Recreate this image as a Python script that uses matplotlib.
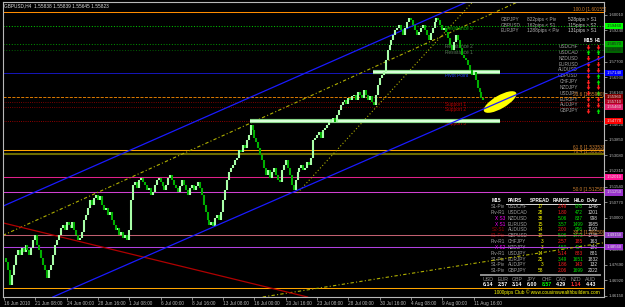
import matplotlib
matplotlib.use("Agg")
import matplotlib.pyplot as plt
import matplotlib.transforms as mtransforms
from matplotlib.patches import Ellipse

plt.rcParams['font.family'] = ['Liberation Sans Narrow', 'Liberation Sans', 'DejaVu Sans']

# GBPUSD H4 closes, 16 Jun 2010 - 11 Aug 2010
closes = [
    1.4802, 1.4782, 1.4743, 1.4669, 1.4718,
    1.4768, 1.4817, 1.4842, 1.4817, 1.4851, 1.4832, 1.4866, 1.4842, 1.4817,
    1.4851, 1.4891, 1.4915, 1.4866,
    1.4842, 1.4802, 1.4768, 1.4743, 1.4704, 1.4743,
    1.4768, 1.4817, 1.4866, 1.4891,
    1.4915, 1.4950, 1.4965, 1.4940, 1.4980,
    1.4965, 1.4950, 1.4980, 1.4940, 1.4915, 1.4891, 1.4901,
    1.4930, 1.4989, 1.5014,
    1.5049, 1.5088, 1.5063, 1.5098, 1.5113, 1.5088, 1.5108,
    1.5063, 1.5039, 1.5049, 1.5014, 1.5029, 1.4989, 1.4965, 1.4940,
    1.4950, 1.4915, 1.4930, 1.4901, 1.4915, 1.4891, 1.4940,
    1.5088, 1.5162, 1.5177, 1.5147, 1.5187,
    1.5197, 1.5177, 1.5162, 1.5137, 1.5147, 1.5113, 1.5127, 1.5162, 1.5187, 1.5197,
    1.5177, 1.5157, 1.5137, 1.5162, 1.5197, 1.5211, 1.5187, 1.5162, 1.5147, 1.5127,
    1.5157, 1.5187, 1.5162, 1.5137, 1.5113, 1.5147, 1.5162, 1.5137, 1.5157, 1.5177,
    1.5147,
    1.5113, 1.5063, 1.5029, 1.4989, 1.4965, 1.4980, 1.4960,
    1.4999, 1.5014, 1.4989, 1.5029,
    1.5088, 1.5137, 1.5187, 1.5226, 1.5246, 1.5261, 1.5285, 1.5295, 1.5335, 1.5325,
    1.5359, 1.5344, 1.5384, 1.5408,
    1.5458, 1.5433, 1.5394, 1.5374, 1.5344,
    1.5310, 1.5285, 1.5246, 1.5211, 1.5236, 1.5197, 1.5226, 1.5246, 1.5211, 1.5187,
    1.5177, 1.5236,
    1.5261, 1.5285, 1.5246, 1.5211, 1.5162, 1.5137, 1.5187,
    1.5226, 1.5246, 1.5261, 1.5236, 1.5246, 1.5275, 1.5261, 1.5295,
    1.5384, 1.5394, 1.5408, 1.5423, 1.5394, 1.5433,
    1.5443, 1.5458, 1.5473, 1.5482, 1.5492, 1.5473, 1.5507, 1.5532,
    1.5556, 1.5571, 1.5581, 1.5561, 1.5591, 1.5581, 1.5601, 1.5606, 1.5581,
    1.5620, 1.5606, 1.5591, 1.5630, 1.5606, 1.5581, 1.5601, 1.5571, 1.5556,
    1.5606, 1.5655, 1.5690, 1.5704, 1.5719, 1.5778, 1.5828, 1.5852,
    1.5877, 1.5901, 1.5926, 1.5936, 1.5951, 1.5926, 1.5901, 1.5936, 1.5966, 1.5985,
    1.5975, 1.5951,
    1.5926, 1.5901, 1.5916, 1.5936, 1.5951, 1.5926, 1.5901, 1.5877, 1.5911, 1.5936,
    1.5966, 1.5985, 1.5975, 1.5951, 1.5926, 1.5936,
    1.5916, 1.5887, 1.5852, 1.5828, 1.5867, 1.5901, 1.5877, 1.5837, 1.5803, 1.5788,
    1.5778,
    1.5754, 1.5729, 1.5704, 1.5719, 1.5680, 1.5640, 1.5620, 1.5591, 1.5581,
]

date_labels = ['16 Jun 2010', '21 Jun 08:00', '24 Jun 00:00', '28 Jun 16:00', '1 Jul 08:00',
               '6 Jul 00:00', '8 Jul 16:00', '13 Jul 08:00', '16 Jul 00:00', '20 Jul 16:00',
               '23 Jul 08:00', '28 Jul 00:00', '30 Jul 16:00', '4 Aug 08:00', '9 Aug 00:00',
               '11 Aug 16:00']

price_ticks = [1.46150, 1.46920, 1.47690, 1.48460, 1.49230, 1.50000, 1.50770, 1.51540,
               1.52310, 1.53080, 1.53850, 1.54620, 1.55390, 1.56160, 1.56930, 1.57700,
               1.58470, 1.59240, 1.60010]

# horizontal levels (fibo, pivots, S/R)
levels = [1.60155, 1.5946, 1.5857, 1.5828, 1.5714, 1.5596, 1.5571, 1.5546, 1.5477,
          1.5335, 1.5315, 1.5201, 1.5125, 1.4915, 1.4856, 1.4654]
level_colors = ['#ff8c00', '#00c000', '#008a00', '#005a00', '#1a1ad8', '#ff8c00', '#a00000',
                '#a00000', '#c00000', '#ffa500', '#6b6b00', '#e0208a', '#d040d0', '#c06070',
                '#b040e0', '#ffa500']
level_styles = ['-', ':', ':', ':', '-', '--', ':', ':', ':', '-', '-', '-', '-', '-', '-', '-']
level_widths = [1, 1, 1, 1, 0.8, 0.8, 0.8, 0.8, 0.8, 1, 2, 1, 1, 1, 1, 1]

# price boxes on the right scale
box_prices = [1.5946, 1.5857, 1.5828, 1.5714, 1.5596, 1.5571, 1.5546, 1.5477,
              1.5201, 1.5125, 1.4915, 1.4856]
box_colors = ['#00ff00', '#00b000', '#006400', '#0000ff', '#800000', '#b00020', '#e0206a',
              '#ff0000', '#ff1493', '#9932cc', '#9040c0', '#9932cc']
box_text = ['#202020', '#202020', '#202020', '#e0e0e0', '#e0e0e0', '#e0e0e0', '#e0e0e0',
            '#e0e0e0', '#e0e0e0', '#e0e0e0', '#e0e0e0', '#e0e0e0']

fib_prices = [1.60155, 1.5596, 1.5335, 1.5315, 1.5125, 1.4915]
fib_texts = ['100.0 [1.60155]', '23.6 [1.55960]', '61.8 [1.53353]', '76.4 [1.53150]',
             '50.0 [1.51250]', '38.2 [1.49150]']

sr_prices = [1.5946, 1.5857, 1.5828, 1.5714, 1.5571, 1.5546, 1.5477]
sr_texts = ['Resistance 3', 'Resistance 2', 'Resistance 1', 'Pivot Point',
            'Support 1', 'Support 2', 'Support 3']
sr_colors = ['#00b000', '#5a7a5a', '#5a7a5a', '#2040ff', '#c00000', '#c00000', '#c00000']

# trend lines: two (bar, price) points each
blue_upper = [(0, 1.5060), (200, 1.5909)]
blue_lower = [(25, 1.4610), (300, 1.5768)]
yellow_mid = [(0, 1.4916), (200, 1.5791)]
yellow_low = [(133, 1.4611), (305, 1.4875)]
red_line = [(0, 1.4974), (155, 1.4610)]
yellow_ray = [(150, 1.5123), (250, 1.6175)]

# thick zone lines: (bar start, bar end, price)
zones = [(188.6, 253.4, 1.5719), (125.7, 253.4, 1.5477)]

ellipse_center = (253.5, 1.5571)

pairs = ['USDCHF', 'USDCAD', 'NZDUSD', 'EURUSD', 'AUDUSD', 'GBPUSD',
         'CHFJPY', 'NZDJPY', 'USDJPY', 'EURJPY', 'AUDJPY', 'GBPJPY']
m15_up = [0, 1, 0, 0, 0, 0, 0, 0, 0, 0, 0, 0]
h1_up = [0, 1, 0, 0, 0, 1, 1, 0, 1, 0, 0, 1]

pips_rows = [('GBPJPY', '822pips < Piv', '528pips > S1'),
             ('GBPUSD', '162pips < S1', '115pips > S2'),
             ('EURJPY', '1288pips < Piv', '131pips > S1')]

status = ['S1-Piv', 'Piv-R1', 'X S3', 'X S1', 'S2-S1', 'S1-Piv',
          'Piv-R1', 'X S2', 'Piv-R1', 'S1-Piv', 'S1-Piv', 'S1-Piv']
status_col = ['#a0a0a0', '#a0a0a0', '#ff00ff', '#ff00ff', '#a00000', '#a00000',
              '#a0a0a0', '#ff00ff', '#a0a0a0', '#a0a0a0', '#a0a0a0', '#a0a0a0']
spread = [17, 28, 38, 15, 14, 19, 3, 3, 14, 25, 3, 58]
ranges = ['2.49', '1.80', '5.06', '3.57', '2.00', '5.06', '2.57', '4.50', '5.14', '3.49', '1.86', '2.06']
range_up = [0, 0, 1, 1, 0, 1, 0, 1, 0, 1, 0, 0]
hilo = [978, 472, 837, 1499, 896, 1473, 185, 414, 883, 1651, 143, 1699]
hilo_up = [1, 1, 1, 1, 1, 1, 0, 1, 0, 1, 0, 1]
d_av = [1346, 1201, 998, 1985, 1192, 1745, 163, 180, 881, 1832, 132, 2022]

currencies = ['USD', 'EUR', 'GBP', 'JPY', 'CHF', 'CAD', 'NZD', 'AUD']
strength = ['6.14', '2.57', '3.14', '6.00', '8.57', '4.29', '1.14', '4.43']
strength_col = ['white', 'white', 'white', 'white', '#00ff00', 'white', '#ff3030', 'white']

W, H = 625, 307
GREEN, RED = '#00e000', '#ff2020'
FS = 3.4
ARROW_UP = [(-0.3, -1), (0.3, -1), (0.3, -0.1), (0.75, -0.1), (0, 1), (-0.75, -0.1), (-0.3, -0.1)]
ARROW_DN = [(x, -y) for x, y in ARROW_UP]

fig = plt.figure(figsize=(W / 100, H / 100), dpi=100, facecolor='black')
ax = fig.add_axes([3 / W, 1 - 297 / H, 601 / W, 295 / H], facecolor='black')
ax.set_xlim(-0.51, 306.6)
ax.set_ylim(1.46098, 1.60641)

# levels
for p, c, ls, lw in zip(levels, level_colors, level_styles, level_widths):
    ax.axhline(p, color=c, ls=ls, lw=lw * 0.75, zorder=2)

for (b0, b1, p) in zones:
    ax.plot([b0, b1], [p, p], color='#7fd07f', lw=3.0, solid_capstyle='butt', zorder=2.5)
    ax.plot([b0, b1], [p, p], color='#d8ffd8', lw=1.6, solid_capstyle='butt', zorder=2.6)

# trend lines
ax.axline(*blue_upper, color='#1a1aff', lw=0.9, zorder=2)
ax.axline(*yellow_mid, color='#b0b000', lw=0.8, ls=(0, (3, 2, 1, 2)), zorder=2)
ax.axline(*yellow_low, color='#b0b000', lw=0.8, ls=(0, (3, 2, 1, 2)), zorder=2)
ax.axline(*red_line, color='#b00000', lw=0.9, zorder=2)
ax.plot([yellow_ray[0][0], yellow_ray[1][0]], [yellow_ray[0][1], yellow_ray[1][1]],
        color='#b0b000', lw=0.8, ls=(0, (1, 2)), zorder=2)

# candles (open = previous close)
opens = [closes[0]] + closes[:-1]
bars = list(range(len(closes)))
lo = [min(o, c) for o, c in zip(opens, closes)]
hi = [max(o, c) for o, c in zip(opens, closes)]
cols = ['#a8ffa8' if c >= o else '#00b000' for o, c in zip(opens, closes)]
ax.vlines(bars, lo, hi, colors=cols, lw=1.5, zorder=3)

# marker ellipse
ell = Ellipse((0, 0), 0.37, 0.13, angle=30, facecolor='#ffff00', edgecolor='none', zorder=4,
              transform=fig.dpi_scale_trans + mtransforms.ScaledTranslation(*ellipse_center, ax.transData))
ax.add_patch(ell)
ax.axline(*blue_lower, color='#1a1aff', lw=0.9, zorder=5)

# axes styling
for s in ax.spines.values():
    s.set_color('#b8b8b8')
    s.set_linewidth(0.8)
ax.yaxis.tick_right()
ax.set_yticks(price_ticks)
ax.set_yticklabels([f'{p:.5f}' for p in price_ticks])
ax.set_xticks([16 * i for i in range(len(date_labels))])
ax.set_xticklabels(date_labels, ha='left')
ax.tick_params(colors='#b8b8b8', labelsize=FS, length=2, width=0.5, pad=1)
ax.tick_params(axis='y', pad=1.5, labelsize=3.1)

blend = mtransforms.blended_transform_factory(ax.transAxes, ax.transData)
for p, c, tc in zip(box_prices, box_colors, box_text):
    ax.text(1.004, p, f'{p:.5f}', transform=blend, color=tc, fontsize=3.1, va='center', ha='left',
            bbox=dict(boxstyle='square,pad=0.3', fc=c, ec='none'), clip_on=False, zorder=6)

for p, t in zip(fib_prices, fib_texts):
    ax.text(0.948, p, t, transform=blend, color='#d08030', fontsize=FS, va='bottom', ha='left', zorder=2)

for p, t, c in zip(sr_prices, sr_texts, sr_colors):
    ax.text(0.735, p, t, transform=blend, color=c, fontsize=FS, va='top', ha='left', zorder=2)


def ftext(x, y, s, color, ha='left', size=FS, weight='normal'):
    ax.text(x / W, 1 - y / H, s, transform=fig.transFigure, color=color, ha=ha, va='center',
            fontsize=size, fontweight=weight, zorder=1, clip_on=False)


def fline(x0, x1, y, color, lw):
    ax.plot([x0 / W, x1 / W], [1 - y / H, 1 - y / H], transform=fig.transFigure, color=color,
            lw=lw, clip_on=False, zorder=1)


ftext(4, 6, 'GBPUSD,H4  1.55838 1.55839 1.55645 1.55823', '#e0e0e0')

for i, (a, b, c) in enumerate(pips_rows):
    y = 19.5 + 5.6 * i
    ftext(501, y, a, '#a0a0a0')
    ftext(527, y, b, '#b0b0b0')
    ftext(568, y, c, '#d0d0d0')

ftext(588, 41, 'M15', 'white', ha='center', weight='bold')
ftext(597.5, 41, 'H1', 'white', ha='center', weight='bold')
for i, pr in enumerate(pairs):
    y = 46.5 + 5.85 * i
    ftext(578, y, pr, '#a0a0a0', ha='right')
    for x, up in ((588, m15_up[i]), (597.5, h1_up[i])):
        ax.plot([x / W], [1 - y / H], transform=fig.transFigure, clip_on=False, zorder=1,
                marker=ARROW_UP if up else ARROW_DN, ms=3.6, mew=0, ls='none',
                color=GREEN if up else RED)

# bottom info table
for x, t in zip([492, 508, 530, 553, 574, 587], ['M15', 'PAIRS', 'SPREAD', 'RANGE', 'HiLo', 'D-Av']):
    ftext(x, 200.7, t, 'white', weight='bold')
fline(506, 600, 203.6, 'white', 0.6)
for i in range(len(pairs)):
    y = 206.7 + 5.82 * i
    ftext(505, y, status[i], status_col[i], ha='right')
    ftext(508, y, pairs[i], '#a0a0a0')
    ftext(543, y, str(spread[i]), '#ffff00', ha='right')
    ftext(567, y, ranges[i], GREEN if range_up[i] else RED, ha='right')
    ftext(583, y, str(hilo[i]), GREEN if hilo_up[i] else RED, ha='right')
    ftext(598, y, str(d_av[i]), '#e0e0e0', ha='right')
fline(481, 600, 275, '#909090', 1.4)
for i, (cur, val) in enumerate(zip(currencies, strength)):
    x = 488 + 14.7 * i
    ftext(x, 279.3, cur, '#909090', ha='center', size=3.8)
    ftext(x, 284.6, val, strength_col[i], ha='center', size=3.8, weight='bold')
ftext(547, 292.6, '1000pips Club © www.cousinswealthbuilders.com', '#ffff00', ha='center')

fig.savefig('out.png', dpi=100, facecolor='black')
